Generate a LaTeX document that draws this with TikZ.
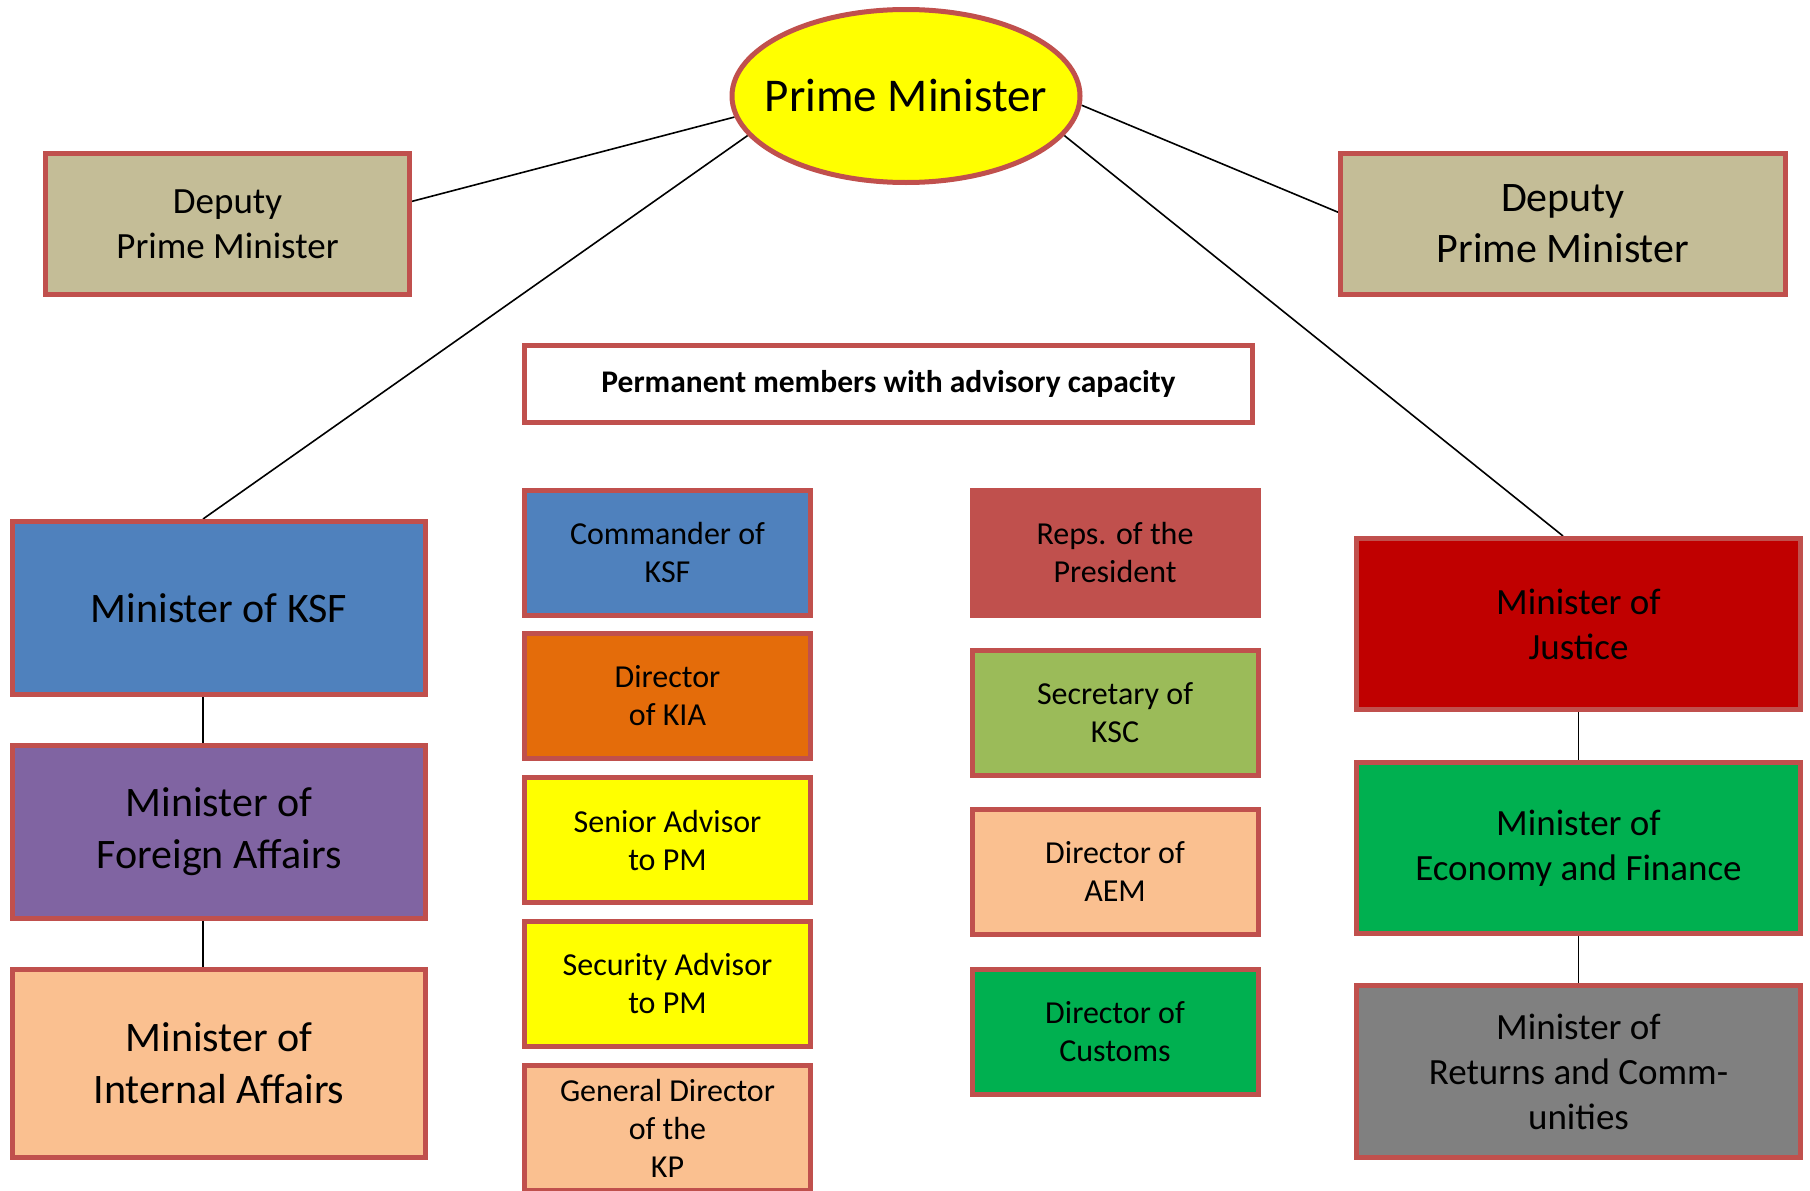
\documentclass[tikz,border=0pt]{standalone}
\usepackage{fontspec}
\setmainfont{Carlito}
\usetikzlibrary{shapes.geometric,calc,backgrounds}
\definecolor{bord}{HTML}{C0504D}
\definecolor{tan}{HTML}{C4BD97}
\definecolor{kblue}{HTML}{4F81BD}
\definecolor{kpurple}{HTML}{8064A2}
\definecolor{kpeach}{HTML}{FAC090}
\definecolor{korange}{HTML}{E46C0A}
\definecolor{kolive}{HTML}{9BBB59}
\definecolor{kgreen}{HTML}{00B050}
\definecolor{kred}{HTML}{C00000}
\definecolor{kgray}{HTML}{808080}
\definecolor{kyellow}{HTML}{FFFF00}
\begin{document}
\begin{tikzpicture}[x=1pt,y=-1pt,
  box/.style={draw=bord, line width=5pt, align=center, inner sep=0pt, text=black},
  conn/.style={black, line width=1.6pt},
  leftcol/.style={box, minimum width=413pt, font=\fontsize{42}{52}\selectfont},
  midcol/.style={box, minimum width=286pt, minimum height=125pt, font=\fontsize{32}{38}\selectfont},
  rightcol/.style={box, minimum width=444pt, minimum height=171pt, font=\fontsize{37}{45}\selectfont},
]
\useasboundingbox (0,0) rectangle (1810,1191);

% Prime minister
\node[box, ellipse, fill=kyellow, inner xsep=-40pt, inner ysep=0pt,
      minimum width=348pt, minimum height=173pt,
      font=\fontsize{47}{56}\selectfont] (pm) at (906,96) {Prime Minister};

% Deputies
\node[box, fill=tan, minimum width=364pt, minimum height=141pt,
      font=\fontsize{37}{45}\selectfont] (dl) at (227.5,224) {Deputy\\Prime Minister};
\node[box, fill=tan, minimum width=445pt, minimum height=141pt,
      font=\fontsize{42}{51}\selectfont] (dr) at (1563,224) {Deputy\\Prime Minister};

% Permanent members header
\node[box, fill=white, minimum width=728pt, minimum height=77pt,
      font=\fontsize{31.5}{38}\selectfont\bfseries] (perm) at (888.5,384) {Permanent members with advisory capacity};

% Left column
\node[leftcol, fill=kblue, minimum height=173pt] (ksf) at (219,608) {Minister of KSF};
\node[leftcol, fill=kpurple, minimum height=173pt] (fa) at (219,832) {Minister of\\Foreign Affairs};
\node[leftcol, fill=kpeach, minimum height=188pt] (ia) at (219,1063.5) {Minister of\\Internal Affairs};

% Middle column 1
\node[midcol, fill=kblue] (cmd) at (667.5,552.5) {Commander of\\KSF};
\node[midcol, fill=korange] (kia) at (667.5,696) {Director\\of KIA};
\node[midcol, fill=kyellow] (sen) at (667.5,840) {Senior Advisor\\to PM};
\node[midcol, fill=kyellow] (secu) at (667.5,983.5) {Security Advisor\\to PM};
\node[midcol, fill=kpeach] (kp) at (667.5,1128) {General Director\\of the\\KP};

% Middle column 2
\node[midcol, fill=bord] (reps) at (1115,552.5) {Reps. of the\\President};
\node[midcol, fill=kolive] (ksc) at (1115,712.5) {Secretary of\\KSC};
\node[midcol, fill=kpeach] (aem) at (1115,871.5) {Director of\\AEM};
\node[midcol, fill=kgreen] (cust) at (1115,1032) {Director of\\Customs};

% Right column
\node[rightcol, fill=kred] (just) at (1578.5,624) {Minister of\\Justice};
\node[rightcol, fill=kgreen] (eco) at (1578.5,848) {Minister of\\Economy and Finance};
\node[rightcol, fill=kgray, minimum height=172pt] (ret) at (1578.5,1071.5) {Minister of\\Returns and Comm-\\unities};

% Connectors
\begin{scope}[on background layer]
\draw[conn] (pm.187.4) -- (dl.7.4);
\draw[conn] (pm.357) -- (dr.177.7);
\draw[conn] (pm.194) -- ($(ksf.north)+(-16,0)$);
\draw[conn] (pm.346) -- ($(just.north)+(-15.5,0)$);
\draw[conn] ($(ksf.south)+(-16,0)$) -- ($(fa.north)+(-16,0)$);
\draw[conn] ($(fa.south)+(-16,0)$) -- ($(ia.north)+(-16,0)$);
\draw[conn] (just.south) -- (eco.north);
\draw[conn] (eco.south) -- (ret.north);
\end{scope}
\end{tikzpicture}
\end{document}
